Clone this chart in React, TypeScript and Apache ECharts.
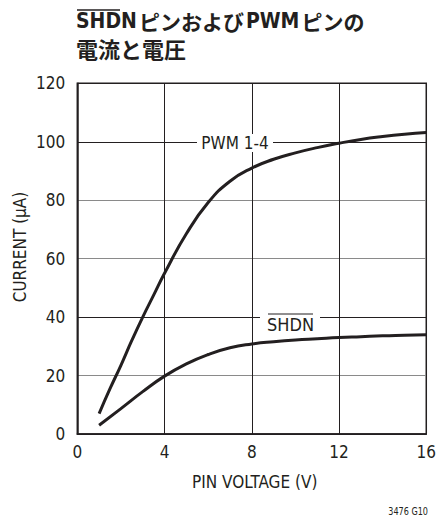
import React, { useEffect, useRef } from "react";
import * as echarts from "echarts";

const NARROW = '"Liberation Sans Narrow", "DejaVu Sans Condensed", sans-serif';
const CJK = '"Noto Sans CJK JP", sans-serif';

const xTicks = [0, 4, 8, 12, 16];
const yTicks = [0, 20, 40, 60, 80, 100, 120];

const pwmVoltage = [1, 1.5, 2, 2.5, 3, 3.5, 4, 5, 6, 7, 8, 9, 10, 11, 12, 13, 14, 15, 16];
const pwmCurrent = [7, 15.5, 23.5, 32, 40, 47.5, 55, 68.5, 79.2, 86.5, 91, 94, 96.2, 98, 99.5, 100.8, 101.8, 102.6, 103.2];

const shdnVoltage = [1, 2, 3, 4, 5, 6, 7, 8, 9, 10, 11, 12, 13, 14, 15, 16];
const shdnCurrent = [3, 8.7, 14.5, 19.8, 24, 27.2, 29.5, 30.8, 31.6, 32.2, 32.6, 33, 33.3, 33.6, 33.8, 34];

const seriesNames = ["PWM 1-4", "SHDN"];

export default function App() {
  const ref = useRef<HTMLDivElement>(null);
  useEffect(() => {
    if (!ref.current) return;
    const chart = echarts.init(ref.current, null, { renderer: "svg" });
    const pwm = pwmVoltage.map((v, i) => [v, pwmCurrent[i]]);
    const shdn = shdnVoltage.map((v, i) => [v, shdnCurrent[i]]);
    chart.setOption({
      animation: false,
      backgroundColor: "#fff",
      grid: {
        left: 77.3,
        right: 9.7,
        top: 83.3,
        bottom: 83,
        show: true,
        borderColor: "#231f20",
        borderWidth: 1.5,
        backgroundColor: "transparent",
      },
      xAxis: {
        type: "value",
        min: xTicks[0],
        max: xTicks[xTicks.length - 1],
        interval: 4,
        axisLine: { show: true, lineStyle: { color: "#231f20", width: 1.5 } },
        axisTick: { show: false },
        axisLabel: { fontFamily: NARROW, fontSize: 17, color: "#231f20", margin: 9 },
        splitLine: { show: true, lineStyle: { color: "#231f20", width: 1 } },
      },
      yAxis: {
        type: "value",
        min: yTicks[0],
        max: yTicks[yTicks.length - 1],
        interval: 20,
        axisLine: { show: true, lineStyle: { color: "#231f20", width: 1.5 } },
        axisTick: { show: false },
        axisLabel: { fontFamily: NARROW, fontSize: 17, color: "#231f20", margin: 12 },
        splitLine: {
          show: true,
          lineStyle: { color: ["#231f20", "#8a8a8a", "#231f20", "#8a8a8a", "#8a8a8a", "#231f20", "#231f20"], width: 1 },
        },
      },
      series: [
        {
          name: seriesNames[0],
          type: "line",
          data: pwm,
          smooth: true,
          symbol: "none",
          lineStyle: { color: "#231f20", width: 3 },
          z: 3,
        },
        {
          name: seriesNames[1],
          type: "line",
          data: shdn,
          smooth: true,
          symbol: "none",
          lineStyle: { color: "#231f20", width: 3 },
          z: 3,
        },
      ],
      graphic: [
        {
          type: "text",
          x: 76,
          y: 21,
          style: {
            text: "{a|SHDN}{b|ピンおよび}{a|PWM}{b|ピンの}",
            verticalAlign: "middle",
            rich: {
              a: { fontFamily: NARROW, fontWeight: "bold", fontSize: 21, fill: "#231f20", padding: [0, 2, 0, 0] },
              b: { fontFamily: CJK, fontWeight: "bold", fontSize: 21, fill: "#231f20", padding: [0, 2, 0, 0] },
            },
          },
        },
        {
          type: "line",
          shape: { x1: 77, y1: 10, x2: 120, y2: 10 },
          style: { stroke: "#231f20", lineWidth: 1.5 },
        },
        {
          type: "text",
          x: 76,
          y: 48,
          style: {
            text: "電流と電圧",
            font: `bold 22px ${CJK}`,
            fill: "#231f20",
            verticalAlign: "middle",
          },
        },
        {
          type: "text",
          x: 20,
          y: 247,
          rotation: Math.PI / 2,
          style: {
            text: "CURRENT (μA)",
            font: `17px ${NARROW}`,
            fill: "#231f20",
            align: "center",
            verticalAlign: "middle",
          },
        },
        {
          type: "text",
          x: 254.7,
          y: 481.5,
          style: {
            text: "PIN VOLTAGE (V)",
            font: `17px ${NARROW}`,
            fill: "#231f20",
            align: "center",
            verticalAlign: "middle",
          },
        },
        {
          type: "text",
          x: 428,
          y: 511,
          scaleX: 0.9,
          style: {
            text: "3476 G10",
            font: `10px ${NARROW}`,
            fill: "#231f20",
            align: "right",
            verticalAlign: "middle",
          },
        },
        {
          type: "rect",
          shape: { x: 197, y: 134, width: 76, height: 18 },
          style: { fill: "#fff" },
          z: 10,
        },
        {
          type: "text",
          x: 235,
          y: 143,
          z: 11,
          style: {
            text: seriesNames[0],
            font: `17px ${NARROW}`,
            fill: "#231f20",
            align: "center",
            verticalAlign: "middle",
          },
        },
        {
          type: "rect",
          shape: { x: 260, y: 310, width: 60, height: 20 },
          style: { fill: "#fff" },
          z: 10,
        },
        {
          type: "text",
          x: 290.5,
          y: 324,
          z: 11,
          style: {
            text: seriesNames[1],
            font: `18px ${NARROW}`,
            fill: "#231f20",
            align: "center",
            verticalAlign: "middle",
          },
        },
        {
          type: "line",
          z: 11,
          shape: { x1: 268, y1: 314, x2: 313, y2: 314 },
          style: { stroke: "#231f20", lineWidth: 1 },
        },
      ],
    });
    return () => chart.dispose();
  }, []);
  return (
    <div
      ref={ref}
      style={{ position: "fixed", left: 0, top: 0, width: 439, height: 517, background: "#fff" }}
    />
  );
}
